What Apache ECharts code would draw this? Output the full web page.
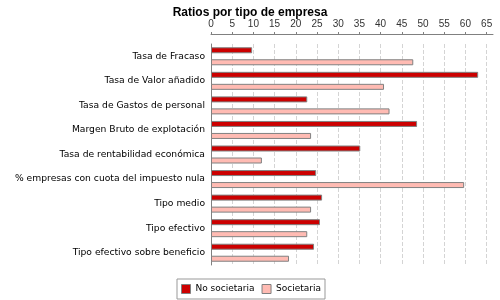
<!DOCTYPE html>
<html>
<head>
<meta charset="utf-8">
<script src="https://cdn.jsdelivr.net/npm/echarts@6/dist/echarts.min.js"></script>
<style>
  html, body { margin: 0; padding: 0; background: #fff; }
  #main { width: 500px; height: 300px; }
</style>
</head>
<body>
<div id="main"></div>
<script>
const categories = [
  'Tasa de Fracaso',
  'Tasa de Valor añadido',
  'Tasa de Gastos de personal',
  'Margen Bruto de explotación',
  'Tasa de rentabilidad económica',
  '% empresas con cuota del impuesto nula',
  'Tipo medio',
  'Tipo efectivo',
  'Tipo efectivo sobre beneficio'
];
const noSocietaria = [9.7, 63.0, 22.7, 48.6, 35.2, 24.8, 26.2, 25.7, 24.3];
const societaria = [47.7, 40.8, 42.1, 23.6, 12.0, 59.7, 23.6, 22.7, 18.4];
const seriesNames = ['No societaria', 'Societaria'];

const labelFont = 'DejaVu Sans';
const myChart = echarts.init(document.getElementById('main'));

const option = {
  animation: false,
  backgroundColor: '#fff',
  title: {
    text: 'Ratios por tipo de empresa',
    left: 'center',
    top: 2,
    textStyle: { fontFamily: 'Liberation Sans', fontSize: 12, fontWeight: 'bold', color: '#000' }
  },
  legend: {
    data: seriesNames,
    left: 177,
    top: 279,
    icon: 'rect',
    itemWidth: 9,
    itemHeight: 9,
    itemGap: 7,
    padding: [5, 4],
    borderColor: '#999',
    borderWidth: 1,
    itemStyle: { borderColor: '#808080', borderWidth: 1 },
    textStyle: { fontFamily: labelFont, fontSize: 9, color: '#000' }
  },
  grid: { left: 211, right: 7, top: 44, bottom: 35 },
  xAxis: {
    type: 'value',
    position: 'top',
    offset: 10,
    min: 0,
    max: 66.5,
    interval: 5,
    axisLine: { show: true, lineStyle: { color: '#808080' } },
    axisTick: { show: true, length: 2, lineStyle: { color: '#808080' } },
    axisLabel: { showMaxLabel: false, margin: 5, fontFamily: 'Liberation Sans', fontSize: 10, color: '#333' },
    splitLine: { show: true, showMaxLine: false, lineStyle: { color: '#d4d4d4', type: 'dashed' } }
  },
  yAxis: {
    type: 'category',
    inverse: true,
    data: categories,
    axisLine: { show: true, lineStyle: { color: '#808080' } },
    axisTick: { show: false },
    axisLabel: { margin: 6, fontFamily: labelFont, fontSize: 9.2, color: '#000' }
  },
  series: [
    {
      name: seriesNames[0],
      type: 'bar',
      data: noSocietaria,
      barWidth: 6,
      barGap: '100%',
      itemStyle: { color: '#cc0000', borderColor: '#808080', borderWidth: 1 }
    },
    {
      name: seriesNames[1],
      type: 'bar',
      data: societaria,
      barWidth: 6,
      barGap: '100%',
      itemStyle: { color: '#ffbbb3', borderColor: '#808080', borderWidth: 1 }
    }
  ]
};
myChart.setOption(option);
</script>
</body>
</html>
